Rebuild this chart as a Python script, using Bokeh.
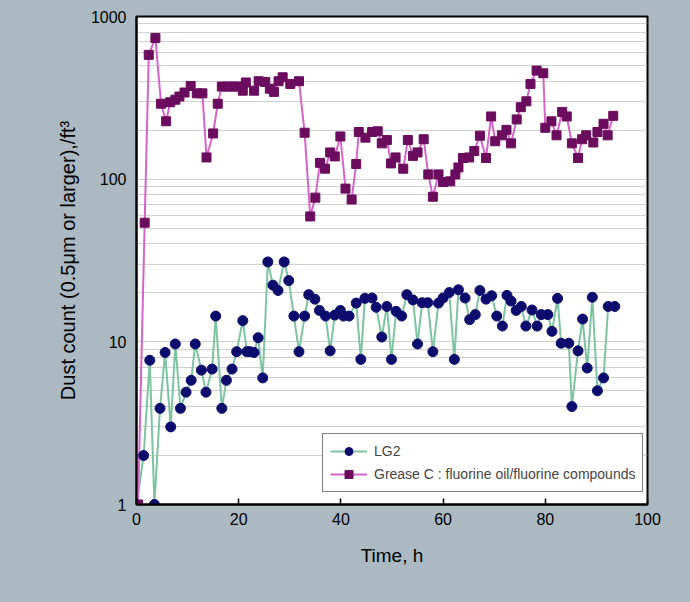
from bokeh.plotting import figure
from bokeh.models import FixedTicker, Range1d, PrintfTickFormatter, Legend
from bokeh.embed import file_html
from bokeh.resources import INLINE

# ---- data ----
lg2_t = [0, 1.4, 2.6, 3.5, 4.6, 5.6, 6.7, 7.6, 8.6, 9.7, 10.7, 11.5, 12.7, 13.6, 14.8,
         15.5, 16.7, 17.6, 18.7, 19.6, 20.8, 21.6, 22.2, 23.0, 23.8, 24.7, 25.7, 26.7,
         27.7, 28.9, 29.8, 30.8, 31.8, 32.9, 33.7, 34.9, 35.8, 37.0, 37.9, 38.8, 39.9,
         40.5, 41.6, 43.0, 43.9, 44.7, 46.1, 46.9, 48.0, 49.0, 49.9, 50.8, 51.9, 52.9,
         54.1, 55.0, 55.9, 57.0, 58.0, 59.1, 60.0, 61.2, 62.2, 63.0, 64.3, 65.2, 66.3,
         67.2, 68.4, 69.5, 70.5, 71.6, 72.5, 73.3, 74.3, 75.3, 76.2, 77.4, 78.4, 79.2,
         80.5, 81.3, 82.4, 83.1, 84.6, 85.2, 86.4, 87.3, 88.2, 89.2, 90.2, 91.4, 92.3, 93.6]
lg2_v = [1, 2, 7.7, 1, 3.9, 8.6, 3, 9.7, 3.9, 4.9, 5.8, 9.7, 6.7, 4.9, 6.8,
         14.4, 3.9, 5.8, 6.8, 8.7, 13.5, 8.7, 8.7, 8.6, 10.6, 6.0, 31, 22.3,
         20.7, 31, 23.8, 14.4, 8.7, 14.4, 19.5, 18.3, 15.6, 14.4, 8.8, 14.6, 15.6,
         14.4, 14.4, 17.3, 7.8, 18.5, 18.6, 16.3, 10.7, 16.5, 7.8, 15.4, 14.4, 19.5,
         18.1, 9.7, 17.4, 17.4, 8.7, 17.3, 18.6, 20.1, 7.8, 20.9, 18.6, 13.7, 14.7,
         20.7, 18.3, 19.2, 14.4, 12.5, 19.3, 17.8, 15.6, 16.5, 12.5, 15.7, 12.5, 14.7,
         14.7, 11.6, 18.5, 9.8, 9.8, 4.0, 8.8, 13.8, 6.9, 18.8, 5.0, 6.0, 16.5, 16.5]

grease_t = [0.3, 1.6, 2.4, 3.7, 4.8, 5.8, 6.6, 7.6, 8.4, 9.4, 10.6, 11.8, 12.9, 13.7,
            15.0, 15.9, 16.7, 17.8, 18.8, 19.7, 20.8, 21.4, 23.0, 23.9, 25.2, 26.1, 26.9,
            27.8, 28.6, 30.1, 31.8, 32.9, 34.0, 35.0, 35.9, 36.9, 37.9, 38.8, 39.9, 40.9,
            42.1, 43.0, 43.5, 44.8, 46.1, 47.2, 48.0, 49.0, 49.8, 50.7, 52.2, 53.1, 54.1,
            55.0, 56.2, 57.1, 58.0, 59.1, 60.0, 61.4, 62.4, 63.0, 63.9, 65.1, 66.1, 67.2,
            68.4, 69.4, 70.2, 71.5, 72.4, 73.3, 74.4, 75.2, 76.3, 77.1, 78.3, 79.6, 80.0,
            81.2, 82.2, 83.3, 84.2, 85.2, 86.4, 87.2, 88.0, 89.4, 90.2, 91.4, 92.2, 93.3]
grease_v = [1, 54, 581, 738, 291, 227, 297, 308, 322, 341, 374, 337, 337, 136,
            191, 291, 371, 371, 371, 371, 350, 393, 350, 400, 396, 360, 344,
            400, 423, 385, 400, 193, 59, 77, 126, 116, 146, 138, 183, 87.5,
            75, 124, 195, 180, 195, 197, 166, 174, 125, 136, 116, 174, 139,
            146, 176, 107, 78, 107, 96, 97, 107, 118, 135, 136, 149, 185,
            135, 243, 171, 186, 201, 166, 233, 277, 301, 385, 465, 448, 207,
            227, 186, 259, 243, 166, 135, 176, 186, 168, 195, 219, 186, 245]

y_major = [1, 10, 100, 1000]
y_minor = [m * d for d in (1, 10, 100) for m in range(2, 10)]
x_major = [0, 20, 40, 60, 80, 100]

BG = "#aab9c2"
FONT = "Liberation Sans"

p = figure(width=690, height=602, y_axis_type="log",
           x_range=Range1d(0, 100), y_range=Range1d(1, 1000),
           output_backend="svg", toolbar_location=None,
           min_border_left=136, min_border_right=43,
           min_border_top=16, min_border_bottom=98)

p.border_fill_color = BG
p.background_fill_color = "white"
p.outline_line_color = "black"
p.outline_line_width = 2

# grid
p.xgrid.grid_line_color = None
p.ygrid.ticker = FixedTicker(ticks=y_major, minor_ticks=y_minor)
p.ygrid.grid_line_color = "#a0a0a0"
p.ygrid.grid_line_dash = "1 1"
p.ygrid.grid_line_width = 1
p.ygrid.minor_grid_line_color = "#a0a0a0"
p.ygrid.minor_grid_line_dash = "1 1"
p.ygrid.minor_grid_line_width = 1

# axes
p.yaxis.ticker = FixedTicker(ticks=y_major, minor_ticks=y_minor)
p.yaxis.formatter = PrintfTickFormatter(format="%d")
p.xaxis.ticker = FixedTicker(ticks=x_major)
for ax in (p.xaxis, p.yaxis):
    ax.axis_line_color = "black"
    ax.axis_line_width = 2
    ax.major_label_text_font = FONT
    ax.major_label_text_font_size = "16px"
    ax.major_label_text_color = "black"
    ax.axis_label_text_font = FONT
    ax.axis_label_text_font_size = "19px"
    ax.axis_label_text_font_style = "normal"
    ax.axis_label_text_color = "black"
    ax.minor_tick_line_color = None
    ax.major_tick_out = 0
p.yaxis.axis_label_text_font_size = "20px"
p.xaxis.major_tick_in = 6
p.xaxis.major_tick_line_color = "black"
p.xaxis.major_tick_line_width = 1.5
p.yaxis.major_tick_in = 0
p.yaxis.major_tick_line_color = None
p.xaxis.major_label_standoff = 8
p.yaxis.major_label_standoff = 6
p.xaxis.axis_label = "Time, h"
p.yaxis.axis_label = "Dust count (0.5\u03bcm or larger),/ft\u00b3"
p.xaxis.axis_label_standoff = 17
p.yaxis.axis_label_standoff = 9

# series
l1 = p.line(lg2_t, lg2_v, line_color="#7cc4a2", line_width=2)
l2 = p.line(grease_t, grease_v, line_color="#d763c8", line_width=2)
m1 = p.scatter(lg2_t, lg2_v, marker="circle", size=10, fill_color="#0c0c6e",
               line_color="#0c0c6e")
m2 = p.scatter(grease_t, grease_v, marker="square", size=9, fill_color="#6b0c5e",
               line_color="#6b0c5e")

legend = Legend(items=[("LG2", [l1, m1]),
                       ("Grease C : fluorine oil/fluorine compounds", [l2, m2])],
                location=(186, 12))
legend.margin = 0
legend.padding = 7
legend.spacing = 3
legend.border_line_color = "black"
legend.border_line_width = 1.5
legend.background_fill_color = "white"
legend.background_fill_alpha = 1
legend.label_text_font = FONT
legend.label_text_font_size = "14px"
legend.glyph_width = 37
legend.label_standoff = 7
legend.label_height = 20
legend.glyph_height = 20
p.add_layout(legend, "center")

html = file_html(p, INLINE)
html = html.replace("<head>", "<head><style>html, body {background: %s;}</style>" % BG, 1)
open("out.html", "w").write(html)
